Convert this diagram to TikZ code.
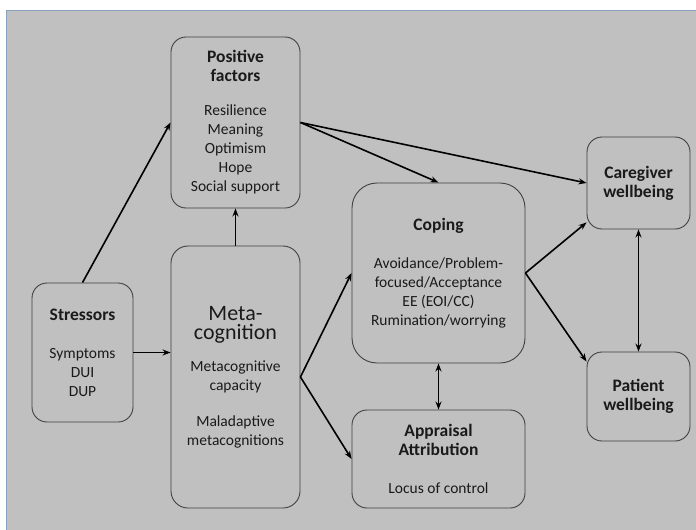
\documentclass[tikz,border=0pt]{standalone}
\usepackage{fontspec}
\setmainfont{Carlito}
\usetikzlibrary{arrows.meta,calc}
\definecolor{bggray}{HTML}{C0C0C0}
\definecolor{edgegray}{HTML}{404040}
\definecolor{txtgray}{HTML}{1A1A1A}
\definecolor{framebl}{HTML}{8AA2C0}
\newcommand{\ttl}[1]{{\fontsize{17.5}{21}\selectfont\bfseries #1}}
\newcommand{\bigmeta}[1]{{\fontsize{22}{31}\selectfont #1}}
\begin{document}
\begin{tikzpicture}[x=1pt,y=-1pt,
  box/.style={draw=edgegray,line width=0.9pt,fill=bggray,rounded corners=15pt,
    inner sep=0pt,align=center,text=txtgray,
    font=\fontsize{15.5}{19}\selectfont},
  conn/.style={line width=1.6pt,black,-{Stealth[length=8pt,width=6pt]}},
  dconn/.style={line width=1.6pt,black,{Stealth[length=8pt,width=6pt]}-{Stealth[length=8pt,width=6pt]}}]
\useasboundingbox (0,0) rectangle (696,530);
\fill[bggray] (6,10) rectangle (696,530);
\draw[framebl,line width=1pt] (6,530) -- (6,10) -- (696,10);

\node[box,minimum width=129pt,minimum height=171pt] (pos) at (235.5,122.5)
  {\ttl{Positive}\\ \ttl{factors}\\[15pt]Resilience\\Meaning\\Optimism\\Hope\\Social support};
\node[box,minimum width=129pt,minimum height=262pt,rounded corners=17pt] (meta) at (235.5,377)
  {\bigmeta{Meta-}\\ \bigmeta{cognition}\\[13pt]Metacognitive\\capacity\\[17pt]Maladaptive\\metacognitions};
\node[box,minimum width=101pt,minimum height=139pt] (stress) at (82.5,352.5)
  {\ttl{Stressors}\\[19pt]Symptoms\\DUI\\DUP};
\node[box,minimum width=173pt,minimum height=180pt,rounded corners=25pt] (coping) at (438.5,273)
  {\ttl{Coping}\\[19pt]Avoidance/Problem-\\focused/Acceptance\\EE (EOI/CC)\\Rumination/worrying};
\node[box,minimum width=103pt,minimum height=92pt] (care) at (638.5,183)
  {\ttl{Caregiver}\\ \ttl{wellbeing}};
\node[box,minimum width=103pt,minimum height=89pt] (pat) at (638.5,396.5)
  {\ttl{Patient}\\ \ttl{wellbeing}};
\node[box,minimum width=173pt,minimum height=98pt] (appr) at (438.5,459)
  {\ttl{Appraisal}\\ \ttl{Attribution}\\[19pt]Locus of control};

\draw[conn] (stress.north) -- (pos.west);
\draw[conn] (meta.north) -- (pos.south);
\draw[conn] (stress.east) -- (stress.east -| meta.west);
\draw[conn] (meta.east) -- (coping.west);
\draw[conn] (meta.east) -- (appr.west);
\draw[conn] (pos.east) -- (coping.north);
\draw[conn] (pos.east) -- (care.west);
\draw[conn] (coping.east) -- ([yshift=7pt]care.south west);
\draw[conn] (coping.east) -- ([yshift=-10pt]pat.north west);
\draw[dconn] (care.south) -- (pat.north);
\draw[dconn] (coping.south) -- (appr.north);
\end{tikzpicture}
\end{document}
